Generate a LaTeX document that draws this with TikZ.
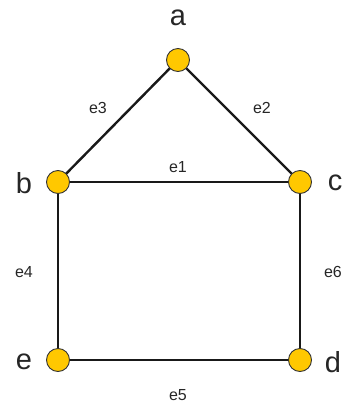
\documentclass[tikz,border=0pt]{standalone}
\usepackage{fontspec}
\setmainfont{Liberation Sans}
\usetikzlibrary{backgrounds}
\begin{document}
\begin{tikzpicture}[x=1pt,y=-1pt,
  vtx/.style={circle,draw=black!80,line width=0.9pt,fill={rgb,255:red,255;green,200;blue,0},minimum size=23pt,inner sep=0pt},
  vlab/.style={font=\fontsize{29}{31}\selectfont,text=black!85},
  elab/.style={font=\fontsize{16}{18}\selectfont,text=black!85},
  edge/.style={line width=2.4pt,black!90}]
\useasboundingbox (0,0) rectangle (350,405);
\node[vtx] (a) at (178,60) {};
\node[vtx] (b) at (58,182) {};
\node[vtx] (c) at (300,182) {};
\node[vtx] (e) at (58,360) {};
\node[vtx] (d) at (300,360) {};
\begin{pgfonlayer}{background}
\draw[edge] (b.center) -- (c.center);
\draw[edge] (a.center) -- (b.center);
\draw[edge] (a.center) -- (c.center);
\draw[edge] (b.center) -- (e.center);
\draw[edge] (c.center) -- (d.center);
\draw[edge] (e.center) -- (d.center);
\end{pgfonlayer}
\node[vlab] (la) at (178,18) {a};
\node[vlab] (lb) at (24,183) {b};
\node[vlab] (lc) at (335,183) {c};
\node[vlab] (le) at (24,362) {e};
\node[vlab] (ld) at (333,362) {d};
\node[elab] (l1) at (178,167) {e1};
\node[elab] (l2) at (262,108) {e2};
\node[elab] (l3) at (98,108) {e3};
\node[elab] (l4) at (24,272) {e4};
\node[elab] (l6) at (333,272) {e6};
\node[elab] (l5) at (178,395) {e5};
\end{tikzpicture}
\end{document}
